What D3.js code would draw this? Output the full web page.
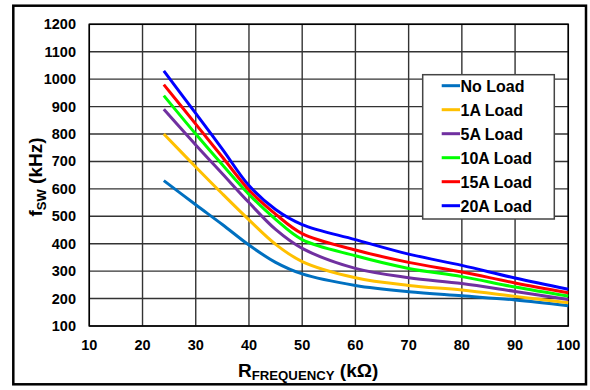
<!DOCTYPE html>
<html><head><meta charset="utf-8">
<script src="https://cdn.jsdelivr.net/npm/d3@7"></script>
<style>body{margin:0;background:#fff}svg{display:block}</style>
</head><body>
<script>
const rValues = [24,30,35,40,45,50,60,70,80,90,100];
const noLoad  = [630,542,470,395,332,290,248,225,210,195,174];
const load1A  = [800,680,582,487,398,335,276,248,231,208,185];
const load5A  = [890,760,655,550,452,383,310,276,255,226,197];
const load10A = [940,800,688,580,489,415,356,310,280,242,209];
const load15A = [980,836,716,596,508,437,377,332,297,257,221];
const load20A = [1030,875,745,612,525,470,415,362,321,275,234];
const seriesNames = ["No Load","1A Load","5A Load","10A Load","15A Load","20A Load"];
const seriesColors = ["#0070C0","#FFC000","#7030A0","#00FF00","#FF0000","#0000FF"];
const xTicks = [10,20,30,40,50,60,70,80,90,100];
const yTicks = [100,200,300,400,500,600,700,800,900,1000,1100,1200];

const allSeries = [noLoad,load1A,load5A,load10A,load15A,load20A];
const W=590,H=390;
const svg=d3.select("body").append("svg").attr("width",W).attr("height",H);
const font="Liberation Sans, Arial, sans-serif";

svg.append("rect").attr("x",13.3).attr("y",5.7).attr("width",572.7).attr("height",378.6)
  .attr("fill","none").attr("stroke","#000").attr("stroke-width",2.5);

const x=d3.scaleLinear().domain([10,100]).range([89.3,568.3]);
const y=d3.scaleLinear().domain([100,1200]).range([326,24.3]);

const g=svg.append("g");
g.selectAll(".vg").data(xTicks).enter().append("line")
  .attr("x1",d=>x(d)).attr("x2",d=>x(d)).attr("y1",y(1200)).attr("y2",y(100))
  .attr("stroke","#333").attr("stroke-width",1.4);
g.selectAll(".hg").data(yTicks).enter().append("line")
  .attr("x1",x(10)).attr("x2",x(100)).attr("y1",d=>y(d)).attr("y2",d=>y(d))
  .attr("stroke","#333").attr("stroke-width",1.4);
g.append("rect").attr("x",x(10)).attr("y",y(1200)).attr("width",x(100)-x(10)).attr("height",y(100)-y(1200))
  .attr("fill","none").attr("stroke","#000").attr("stroke-width",1.5);

g.selectAll(".yl").data(yTicks).enter().append("text")
  .attr("x",76).attr("y",d=>y(d)+5).attr("text-anchor","end")
  .attr("font-family",font).attr("font-weight","bold").attr("font-size",14.5).text(d=>d);
g.selectAll(".xl").data(xTicks).enter().append("text")
  .attr("x",d=>x(d)).attr("y",350).attr("text-anchor","middle")
  .attr("font-family",font).attr("font-weight","bold").attr("font-size",14.5).text(d=>d);

const line=d3.line().x((d,i)=>x(rValues[i])).y(d=>y(d)).curve(d3.curveCatmullRom.alpha(0.5));
allSeries.forEach((s,i)=>{
  g.append("path").datum(s).attr("d",line).attr("fill","none")
   .attr("stroke",seriesColors[i]).attr("stroke-width",3);
});

const lg=svg.append("g");
lg.append("rect").attr("x",422.7).attr("y",74.7).attr("width",131.6).attr("height",144.3)
  .attr("fill","#fff").attr("stroke","#444").attr("stroke-width",1.5);
seriesNames.forEach((n,i)=>{
  const cy=85.7+i*24;
  lg.append("line").attr("x1",441.7).attr("x2",460).attr("y1",cy).attr("y2",cy)
    .attr("stroke",seriesColors[i]).attr("stroke-width",3);
  lg.append("text").attr("x",460.5).attr("y",cy+6).attr("font-family",font)
    .attr("font-weight","bold").attr("font-size",16).text(n);
});

const xt=svg.append("text").attr("x",238).attr("y",376.7).attr("font-family",font).attr("font-weight","bold");
xt.append("tspan").attr("font-size",19).text("R");
xt.append("tspan").attr("font-size",13.2).attr("dy",3.5).text("FREQUENCY");
xt.append("tspan").attr("font-size",19).attr("dy",-3.5).text(" (kΩ)");

const yt=svg.append("text").attr("transform","translate(42,177) rotate(-90)").attr("text-anchor","middle")
  .attr("font-family",font).attr("font-weight","bold");
yt.append("tspan").attr("font-size",19).text("f");
yt.append("tspan").attr("font-size",13).attr("dy",3.5).text("SW");
yt.append("tspan").attr("font-size",19).attr("dy",-3.5).text(" (kHz)");
</script>
</body></html>
